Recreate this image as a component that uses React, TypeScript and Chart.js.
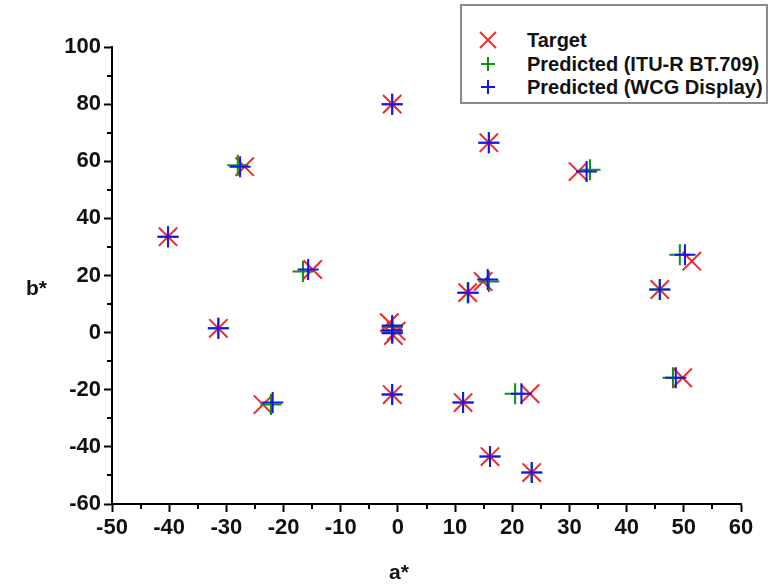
import React, { useEffect, useRef } from "react";
import { Chart, registerables } from "chart.js";

Chart.register(...registerables);

// a*, b* values
const targetA = [-1.0, 15.9, -26.8, 31.5, -40.2, -14.9, 51.4, 12.2, 14.9, 45.8, -31.4, -1.5, -0.8, -0.3, -1.0, 11.4, 23.1, 49.8, -23.6, 16.1, 23.4];
const targetB = [80.0, 66.5, 58.1, 56.4, 33.6, 22.1, 25.0, 14.0, 17.9, 15.1, 1.5, 3.5, -1.0, 0.5, -21.7, -24.5, -21.4, -15.8, -25.2, -43.4, -49.0];

const ituA = [-1.0, 15.9, -28.0, 33.6, -40.2, -16.6, 49.3, 12.2, 15.9, 45.8, -31.4, -1.0, -1.0, -1.0, -1.0, 11.4, 20.5, 48.1, -22.2, 16.1, 23.4];
const ituB = [80.0, 66.5, 58.6, 57.0, 33.6, 21.4, 27.3, 14.0, 17.9, 15.1, 1.5, 2.0, 0.5, 0.0, -21.7, -24.5, -21.4, -15.8, -25.2, -43.4, -49.0];

const wcgA = [-1.0, 15.9, -27.6, 33.0, -40.2, -15.7, 50.2, 12.3, 15.7, 45.8, -31.4, -1.0, -1.0, -1.0, -1.0, 11.4, 21.6, 48.6, -21.9, 16.1, 23.4];
const wcgB = [80.0, 66.5, 58.1, 56.4, 33.6, 22.1, 27.3, 14.0, 18.6, 15.1, 1.5, 2.5, 0.8, -0.2, -21.7, -24.5, -21.4, -15.8, -24.5, -43.4, -49.0];

const xTicks = [-50, -40, -30, -20, -10, 0, 10, 20, 30, 40, 50, 60];
const yTicks = [-60, -40, -20, 0, 20, 40, 60, 80, 100];
const xMinor = [-45, -35, -25, -15, -5, 5, 15, 25, 35, 45, 55];
const yMinor = [-50, -30, -10, 10, 30, 50, 70, 90];

const seriesNames = ["Target", "Predicted (ITU-R BT.709)", "Predicted (WCG Display)"];
const RED = "#f02a2a";
const GREEN = "#109010";
const BLUE = "#1414f0";

const FONT = "'Liberation Sans', Arial, Helvetica, sans-serif";

const toPoints = (a: number[], b: number[]) => a.map((x, i) => ({ x, y: b[i] }));

const minorTicks = {
  id: "minorTicks",
  afterDraw(chart: any) {
    const ctx = chart.ctx;
    const xs = chart.scales.x;
    const ys = chart.scales.y;
    const area = chart.chartArea;
    ctx.save();
    ctx.strokeStyle = "#000";
    ctx.lineWidth = 2;
    ctx.beginPath();
    xMinor.forEach((v) => {
      const px = Math.round(xs.getPixelForValue(v));
      ctx.moveTo(px, area.bottom);
      ctx.lineTo(px, area.bottom + 5);
    });
    yMinor.forEach((v) => {
      const py = Math.round(ys.getPixelForValue(v));
      ctx.moveTo(area.left, py);
      ctx.lineTo(area.left - 5, py);
    });
    ctx.stroke();
    ctx.restore();
  },
};

function Marker({ kind, color }: { kind: "x" | "+"; color: string }) {
  return (
    <svg width="22" height="22" style={{ display: "block" }}>
      {kind === "x" ? (
        <g stroke={color} strokeWidth="2">
          <line x1="3" y1="3" x2="19" y2="19" />
          <line x1="19" y1="3" x2="3" y2="19" />
        </g>
      ) : (
        <g stroke={color} strokeWidth="2">
          <line x1="11" y1="4" x2="11" y2="18" />
          <line x1="4" y1="11" x2="18" y2="11" />
        </g>
      )}
    </svg>
  );
}

export default function App() {
  const ref = useRef<HTMLCanvasElement | null>(null);

  useEffect(() => {
    if (!ref.current) return;
    const tickFont = { family: FONT, size: 22, weight: "bold" as const };
    const chart = new Chart(ref.current, {
      type: "scatter",
      data: {
        datasets: [
          {
            label: seriesNames[0],
            data: toPoints(targetA, targetB),
            pointStyle: "crossRot",
            pointRadius: 13,
            pointBorderColor: RED,
            pointBorderWidth: 2,
            borderColor: RED,
            backgroundColor: RED,
            order: 3,
          },
          {
            label: seriesNames[1],
            data: toPoints(ituA, ituB),
            pointStyle: "cross",
            pointRadius: 10.5,
            pointBorderColor: GREEN,
            pointBorderWidth: 2,
            borderColor: GREEN,
            backgroundColor: GREEN,
            order: 2,
          },
          {
            label: seriesNames[2],
            data: toPoints(wcgA, wcgB),
            pointStyle: "cross",
            pointRadius: 10.5,
            pointBorderColor: BLUE,
            pointBorderWidth: 2,
            borderColor: BLUE,
            backgroundColor: BLUE,
            order: 1,
          },
        ],
      },
      options: {
        animation: false,
        responsive: false,
        devicePixelRatio: 1,
        layout: { padding: { left: 0, right: 31, top: 47, bottom: 0 } },
        plugins: {
          legend: { display: false },
          tooltip: { enabled: false },
        },
        scales: {
          x: {
            type: "linear",
            min: -50,
            max: 60,
            afterBuildTicks: (s: any) => {
              s.ticks = xTicks.map((v) => ({ value: v }));
            },
            afterFit: (s: any) => {
              s.height = 80;
            },
            ticks: {
              color: "#111",
              font: tickFont,
              padding: 3,
              maxRotation: 0,
              autoSkip: false,
            },
            grid: {
              drawOnChartArea: false,
              drawTicks: true,
              tickLength: 8,
              tickWidth: 2,
              tickColor: "#000",
            },
            border: { display: true, color: "#000", width: 2 },
          },
          y: {
            type: "linear",
            min: -60,
            max: 100,
            afterBuildTicks: (s: any) => {
              s.ticks = yTicks.map((v) => ({ value: v }));
            },
            afterFit: (s: any) => {
              s.width = 112;
            },
            ticks: {
              color: "#111",
              font: tickFont,
              padding: 3,
              autoSkip: false,
            },
            grid: {
              drawOnChartArea: false,
              drawTicks: true,
              tickLength: 8,
              tickWidth: 2,
              tickColor: "#000",
            },
            border: { display: true, color: "#000", width: 2 },
          },
        },
      },
      plugins: [minorTicks],
    });
    return () => chart.destroy();
  }, []);

  const labelStyle: React.CSSProperties = {
    position: "absolute",
    fontFamily: FONT,
    fontWeight: "bold",
    fontSize: 21,
    color: "#111",
    lineHeight: "24px",
    whiteSpace: "nowrap",
  };

  const legendRow = (kind: "x" | "+", color: string, text: string, top: number) => (
    <div style={{ position: "absolute", left: 0, top, height: 24, display: "flex", alignItems: "center" }}>
      <div style={{ position: "absolute", left: 15, top: 1 }}>
        <Marker kind={kind} color={color} />
      </div>
      <span
        style={{
          position: "absolute",
          left: 65,
          top: 0,
          fontFamily: FONT,
          fontWeight: "bold",
          fontSize: 20,
          lineHeight: "24px",
          color: "#111",
          whiteSpace: "nowrap",
        }}
      >
        {text}
      </span>
    </div>
  );

  return (
    <div
      style={{
        position: "fixed",
        left: 0,
        top: 0,
        width: 772,
        height: 584,
        background: "#fff",
        overflow: "hidden",
      }}
    >
      <canvas ref={ref} width={772} height={584} style={{ display: "block", width: 772, height: 584 }} />
      <div style={{ ...labelStyle, left: 26, top: 276 }}>b*</div>
      <div style={{ ...labelStyle, left: 389, top: 560 }}>a*</div>
      <div
        style={{
          position: "absolute",
          left: 460,
          top: 4,
          width: 308,
          height: 100,
          border: "2px solid #8a8a8a",
          background: "#fff",
          boxSizing: "border-box",
        }}
      >
        {legendRow("x", RED, seriesNames[0], 22)}
        {legendRow("+", GREEN, seriesNames[1], 46)}
        {legendRow("+", BLUE, seriesNames[2], 69)}
      </div>
    </div>
  );
}
